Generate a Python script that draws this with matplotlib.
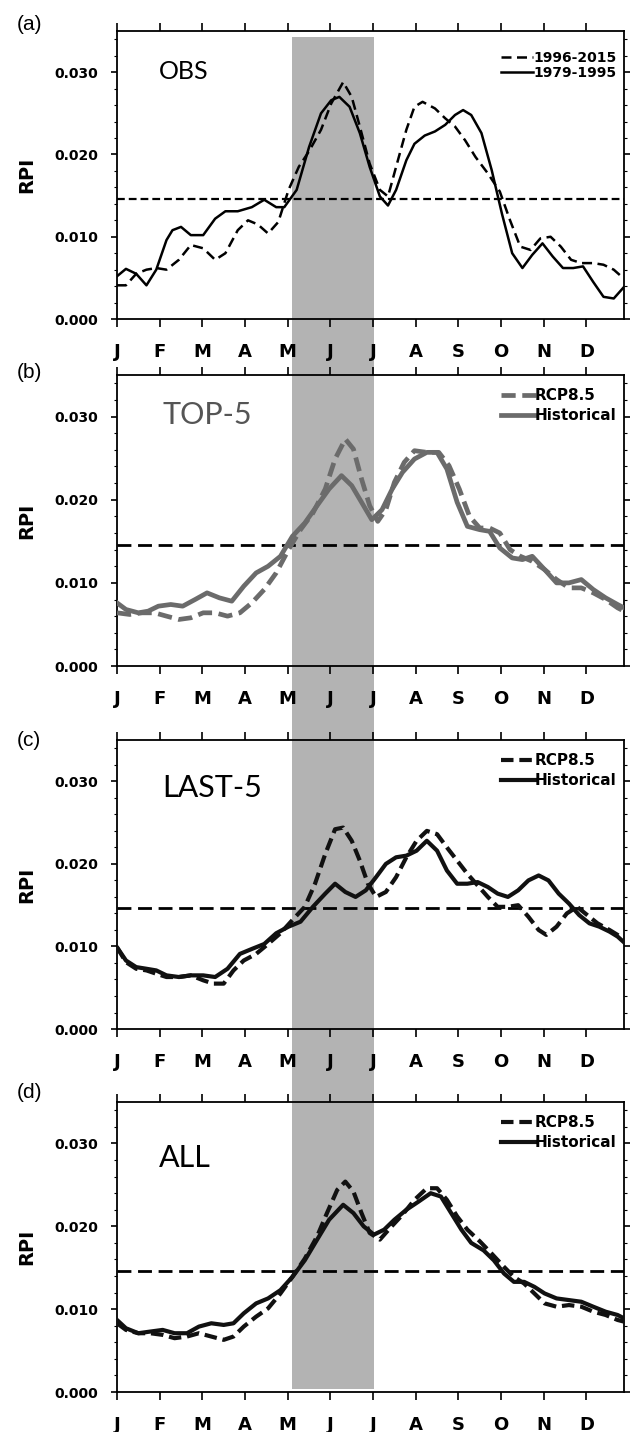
import numpy as np
import matplotlib
matplotlib.use("Agg")
import matplotlib.pyplot as plt
from matplotlib.patches import Rectangle
from matplotlib.ticker import MultipleLocator

# x is in months since 1 Jan (0 = J, 11 = D)
months = ["J", "F", "M", "A", "M", "J", "J", "A", "S", "O", "N", "D"]
threshold = 0.0146
shade_start, shade_end = 4.09, 6.02

# (a) OBS
a_old_x = [0.00, 0.21, 0.45, 0.69, 0.92, 1.16, 1.30, 1.50, 1.73, 2.02, 2.30, 2.54, 2.83, 3.16, 3.45,
           3.73, 3.92, 4.21, 4.50, 4.78, 5.02, 5.21, 5.45, 5.69, 5.92, 6.16, 6.35, 6.54, 6.78, 6.97,
           7.21, 7.45, 7.69, 7.92, 8.11, 8.30, 8.54, 8.78, 9.02, 9.26, 9.50, 9.73, 9.97, 10.21, 10.45,
           10.69, 10.92, 11.16, 11.40, 11.64, 11.88]
a_old_y = [0.0052, 0.0061, 0.0055, 0.0041, 0.0060, 0.0096, 0.0108, 0.0112, 0.0102, 0.0102, 0.0122, 0.0131, 0.0131, 0.0136, 0.0145,
           0.0136, 0.0136, 0.0157, 0.0209, 0.0250, 0.0266, 0.0270, 0.0258, 0.0226, 0.0185, 0.0149, 0.0138, 0.0157, 0.0193, 0.0213,
           0.0223, 0.0228, 0.0236, 0.0248, 0.0254, 0.0248, 0.0226, 0.0181, 0.0128, 0.0080, 0.0062, 0.0078, 0.0092, 0.0076, 0.0062,
           0.0062, 0.0064, 0.0045, 0.0027, 0.0025, 0.0039]
a_new_x = [0.00, 0.21, 0.45, 0.69, 0.92, 1.16, 1.45, 1.73, 2.02, 2.30, 2.54, 2.83, 3.07, 3.30, 3.54,
           3.78, 4.02, 4.26, 4.50, 4.78, 5.02, 5.30, 5.50, 5.69, 5.92, 6.16, 6.35, 6.54, 6.78, 6.97,
           7.16, 7.45, 7.69, 7.92, 8.16, 8.40, 8.69, 8.97, 9.21, 9.45, 9.69, 9.92, 10.16, 10.40, 10.64,
           10.88, 11.16, 11.40, 11.64, 11.88]
a_new_y = [0.0041, 0.0041, 0.0055, 0.0060, 0.0062, 0.0060, 0.0072, 0.0090, 0.0086, 0.0072, 0.0080, 0.0108, 0.0120, 0.0115, 0.0104,
           0.0118, 0.0157, 0.0185, 0.0204, 0.0230, 0.0262, 0.0288, 0.0270, 0.0234, 0.0189, 0.0157, 0.0149, 0.0185, 0.0230, 0.0258,
           0.0264, 0.0256, 0.0244, 0.0234, 0.0217, 0.0197, 0.0177, 0.0155, 0.0120, 0.0088, 0.0084, 0.0098, 0.0100, 0.0088, 0.0072,
           0.0068, 0.0068, 0.0066, 0.0060, 0.0049]

# (b) TOP-5
b_hist_x = [0.00, 0.21, 0.50, 0.73, 0.97, 1.26, 1.54, 1.83, 2.11, 2.40, 2.69, 2.97, 3.26, 3.54, 3.83,
            4.11, 4.40, 4.69, 4.97, 5.26, 5.50, 5.73, 5.97, 6.21, 6.45, 6.69, 6.97, 7.26, 7.50, 7.73,
            7.97, 8.21, 8.50, 8.73, 8.97, 9.26, 9.50, 9.73, 10.02, 10.30, 10.59, 10.88, 11.16, 11.45, 11.73, 11.88]
b_hist_y = [0.0076, 0.0068, 0.0064, 0.0066, 0.0072, 0.0074, 0.0072, 0.0080, 0.0088, 0.0082, 0.0078, 0.0096, 0.0112, 0.0120, 0.0132,
            0.0156, 0.0172, 0.0193, 0.0213, 0.0229, 0.0217, 0.0197, 0.0176, 0.0188, 0.0213, 0.0233, 0.0249, 0.0257, 0.0257, 0.0237,
            0.0197, 0.0168, 0.0164, 0.0162, 0.0142, 0.0130, 0.0128, 0.0132, 0.0116, 0.0100, 0.0100, 0.0104, 0.0092, 0.0082, 0.0074, 0.0070]
b_rcp_x = [0.00, 0.30, 0.59, 0.88, 1.16, 1.45, 1.73, 2.02, 2.30, 2.59, 2.88, 3.16, 3.45, 3.73, 4.02,
           4.30, 4.59, 4.88, 5.11, 5.35, 5.54, 5.73, 5.92, 6.11, 6.30, 6.50, 6.73, 6.97, 7.26, 7.54,
           7.78, 8.02, 8.26, 8.50, 8.73, 8.97, 9.21, 9.45, 9.73, 10.02, 10.30, 10.59, 10.88, 11.16, 11.45, 11.73, 11.88]
b_rcp_y = [0.0064, 0.0062, 0.0064, 0.0064, 0.0060, 0.0056, 0.0058, 0.0064, 0.0064, 0.0060, 0.0064, 0.0076, 0.0092, 0.0112, 0.0140,
           0.0164, 0.0184, 0.0213, 0.0249, 0.0273, 0.0261, 0.0225, 0.0193, 0.0174, 0.0188, 0.0221, 0.0245, 0.0259, 0.0257, 0.0257,
           0.0241, 0.0213, 0.0180, 0.0166, 0.0166, 0.0160, 0.0140, 0.0132, 0.0126, 0.0116, 0.0104, 0.0094, 0.0094, 0.0088, 0.0080, 0.0070, 0.0066]

# (c) LAST-5
c_hist_x = [0.00, 0.21, 0.45, 0.69, 0.92, 1.16, 1.45, 1.73, 2.02, 2.30, 2.59, 2.88, 3.16, 3.45, 3.73,
            4.02, 4.30, 4.59, 4.88, 5.11, 5.35, 5.59, 5.83, 6.07, 6.30, 6.54, 6.78, 7.02, 7.26, 7.50,
            7.73, 7.97, 8.21, 8.45, 8.69, 8.92, 9.16, 9.40, 9.64, 9.88, 10.11, 10.35, 10.59, 10.83, 11.07,
            11.30, 11.54, 11.73, 11.88]
c_hist_y = [0.0099, 0.0083, 0.0075, 0.0073, 0.0071, 0.0065, 0.0063, 0.0065, 0.0065, 0.0063, 0.0073, 0.0091, 0.0097, 0.0103, 0.0116,
            0.0124, 0.0130, 0.0148, 0.0164, 0.0176, 0.0166, 0.0160, 0.0168, 0.0184, 0.0200, 0.0208, 0.0210, 0.0216, 0.0228, 0.0216,
            0.0192, 0.0176, 0.0176, 0.0178, 0.0172, 0.0164, 0.0160, 0.0168, 0.0180, 0.0186, 0.0180, 0.0164, 0.0152, 0.0138, 0.0128,
            0.0124, 0.0118, 0.0112, 0.0105]
c_rcp_x = [0.00, 0.21, 0.45, 0.69, 0.92, 1.16, 1.45, 1.73, 2.02, 2.26, 2.50, 2.73, 2.97, 3.26, 3.54,
           3.83, 4.11, 4.40, 4.64, 4.88, 5.11, 5.30, 5.50, 5.69, 5.88, 6.07, 6.30, 6.54, 6.78, 7.02,
           7.26, 7.50, 7.73, 7.97, 8.21, 8.45, 8.69, 8.92, 9.16, 9.40, 9.64, 9.88, 10.06, 10.30, 10.54,
           10.78, 11.02, 11.26, 11.54, 11.73, 11.88]
c_rcp_y = [0.0099, 0.0081, 0.0073, 0.0071, 0.0067, 0.0063, 0.0063, 0.0065, 0.0059, 0.0055, 0.0055, 0.0071, 0.0083, 0.0091, 0.0103,
           0.0116, 0.0132, 0.0148, 0.0176, 0.0212, 0.0242, 0.0244, 0.0228, 0.0204, 0.0176, 0.0160, 0.0166, 0.0184, 0.0208, 0.0228,
           0.0240, 0.0236, 0.0220, 0.0204, 0.0188, 0.0174, 0.0160, 0.0148, 0.0148, 0.0150, 0.0136, 0.0120, 0.0114, 0.0124, 0.0140,
           0.0148, 0.0138, 0.0128, 0.0120, 0.0114, 0.0108]

# (d) ALL
d_hist_x = [0.00, 0.21, 0.50, 0.78, 1.07, 1.35, 1.64, 1.92, 2.21, 2.50, 2.73, 2.97, 3.26, 3.54, 3.83,
            4.11, 4.40, 4.69, 4.97, 5.30, 5.54, 5.78, 6.02, 6.26, 6.50, 6.78, 7.07, 7.35, 7.59, 7.83,
            8.07, 8.30, 8.59, 8.83, 9.07, 9.30, 9.54, 9.78, 10.02, 10.30, 10.59, 10.88, 11.16, 11.45, 11.73, 11.88]
d_hist_y = [0.0087, 0.0077, 0.0071, 0.0073, 0.0075, 0.0071, 0.0071, 0.0079, 0.0083, 0.0081, 0.0083, 0.0095, 0.0107, 0.0113, 0.0123,
            0.0139, 0.0159, 0.0184, 0.0208, 0.0226, 0.0216, 0.0200, 0.0190, 0.0196, 0.0208, 0.0220, 0.0230, 0.0240, 0.0236, 0.0216,
            0.0196, 0.0180, 0.0171, 0.0159, 0.0143, 0.0133, 0.0133, 0.0127, 0.0119, 0.0113, 0.0111, 0.0109, 0.0103, 0.0097, 0.0093, 0.0089]
d_rcp_x = [0.00, 0.21, 0.50, 0.78, 1.07, 1.35, 1.64, 1.92, 2.21, 2.50, 2.73, 2.97, 3.26, 3.54, 3.83,
           4.11, 4.40, 4.69, 4.92, 5.16, 5.35, 5.54, 5.73, 5.92, 6.16, 6.40, 6.69, 6.97, 7.26, 7.50,
           7.73, 7.97, 8.21, 8.50, 8.78, 9.07, 9.30, 9.54, 9.78, 10.02, 10.30, 10.59, 10.88, 11.16, 11.45, 11.73, 11.88]
d_rcp_y = [0.0083, 0.0075, 0.0071, 0.0071, 0.0069, 0.0065, 0.0067, 0.0071, 0.0067, 0.0063, 0.0067, 0.0079, 0.0091, 0.0101, 0.0119,
           0.0139, 0.0161, 0.0188, 0.0216, 0.0244, 0.0254, 0.0242, 0.0216, 0.0192, 0.0184, 0.0198, 0.0214, 0.0232, 0.0246, 0.0246,
           0.0232, 0.0212, 0.0196, 0.0182, 0.0167, 0.0151, 0.0139, 0.0131, 0.0119, 0.0107, 0.0103, 0.0105, 0.0103, 0.0097, 0.0093, 0.0087, 0.0085]

panels = [
    dict(tag="(a)", name="OBS", name_size=18, name_color="black", name_pos=(0.082, 0.858),
         labels=["1996-2015", "1979-1995"], new=(a_new_x, a_new_y), old=(a_old_x, a_old_y),
         color="black", lw=1.8, dash=(4, 2.2), thr_lw=1.6, thr_dash=(3.5, 1.8),
         leg_size=10, leg_space=0.05, leg_y=0.93, leg_pad=0.0),
    dict(tag="(b)", name="TOP-5", name_size=22, name_color="#555555", name_pos=(0.09, 0.862),
         labels=["RCP8.5", "Historical"], new=(b_rcp_x, b_rcp_y), old=(b_hist_x, b_hist_y),
         color="#6b6b6b", lw=3.4, dash=(3, 1.4), thr_lw=2.0, thr_dash=(5, 2.4),
         leg_size=11, leg_space=0.35, leg_y=0.955, leg_pad=-0.1),
    dict(tag="(c)", name="LAST-5", name_size=22, name_color="black", name_pos=(0.09, 0.834),
         labels=["RCP8.5", "Historical"], new=(c_rcp_x, c_rcp_y), old=(c_hist_x, c_hist_y),
         color="#111111", lw=3.0, dash=(3, 1.4), thr_lw=2.0, thr_dash=(5, 2.4),
         leg_size=11, leg_space=0.35, leg_y=0.955, leg_pad=-0.1),
    dict(tag="(d)", name="ALL", name_size=22, name_color="black", name_pos=(0.082, 0.807),
         labels=["RCP8.5", "Historical"], new=(d_rcp_x, d_rcp_y), old=(d_hist_x, d_hist_y),
         color="#111111", lw=3.0, dash=(3, 1.4), thr_lw=2.0, thr_dash=(5, 2.4),
         leg_size=11, leg_space=0.35, leg_y=0.955, leg_pad=-0.1),
]

# axes boxes in figure fraction (left, bottom, width, height)
boxes = [
    (0.1828, 0.7772, 0.7922, 0.2011),
    (0.1828, 0.5349, 0.7922, 0.2032),
    (0.1828, 0.2814, 0.7922, 0.2018),
    (0.1828, 0.0279, 0.7922, 0.2025),
]
tag_y = [24, 372, 740, 1093]  # pixel rows of the panel letters

fig = plt.figure(figsize=(6.4, 14.32), dpi=100)
axes = []
for p, box, ty in zip(panels, boxes, tag_y):
    ax = fig.add_axes(box)
    ax.set_facecolor("none")
    ax.set_xlim(0, 11.88)
    ax.set_ylim(0, 0.035)

    ax.axhline(threshold, color="black", lw=p["thr_lw"], linestyle=(0, p["thr_dash"]), zorder=2)
    ax.plot(p["new"][0], p["new"][1], color=p["color"], lw=p["lw"], linestyle=(0, p["dash"]),
            label=p["labels"][0], zorder=3)
    ax.plot(p["old"][0], p["old"][1], color=p["color"], lw=p["lw"], label=p["labels"][1], zorder=3)

    ax.set_xticks(range(12))
    ax.set_xticklabels(months, fontsize=13, fontweight="bold")
    ax.set_yticks([0, 0.01, 0.02, 0.03])
    ax.set_yticklabels(["0.000", "0.010", "0.020", "0.030"], fontsize=10, fontweight="bold")
    ax.yaxis.set_minor_locator(MultipleLocator(0.002))
    ax.tick_params(axis="x", which="major", direction="out", length=6, width=1.2,
                   top=True, labeltop=False, pad=11)
    ax.tick_params(axis="y", which="major", direction="out", length=4.5, width=1.2,
                   right=True, pad=9)
    ax.tick_params(axis="y", which="minor", direction="out", length=2, width=0.8, right=True)
    for s in ax.spines.values():
        s.set_linewidth(1.3)

    ax.set_ylabel("RPI", fontsize=14, fontweight="bold")
    ax.yaxis.set_label_coords(-0.16, 0.5)

    ax.text(p["name_pos"][0], p["name_pos"][1], p["name"], transform=ax.transAxes,
            fontsize=p["name_size"], color=p["name_color"], family="Lato", va="center", ha="left")
    fig.text(17 / 640, 1 - ty / 1432, p["tag"], fontsize=15, family="Liberation Sans",
             va="center", ha="left")

    ax.legend(loc="upper right", bbox_to_anchor=(0.985, p["leg_y"]), frameon=False,
              prop=dict(size=p["leg_size"], weight="bold"), handlelength=2.3,
              handletextpad=p["leg_pad"], labelspacing=p["leg_space"], borderpad=0, borderaxespad=0)
    axes.append(ax)

# grey band for the May-June window, running through all four panels
to_fig = fig.transFigure.inverted()
x0, y0 = to_fig.transform(axes[3].transData.transform((shade_start, 0.0004)))
x1, y1 = to_fig.transform(axes[0].transData.transform((shade_end, 0.0343)))
fig.add_artist(Rectangle((x0, y0), x1 - x0, y1 - y0, transform=fig.transFigure,
                         facecolor="#b3b3b3", edgecolor="none", zorder=-1))

fig.savefig("out.png", dpi=100)
